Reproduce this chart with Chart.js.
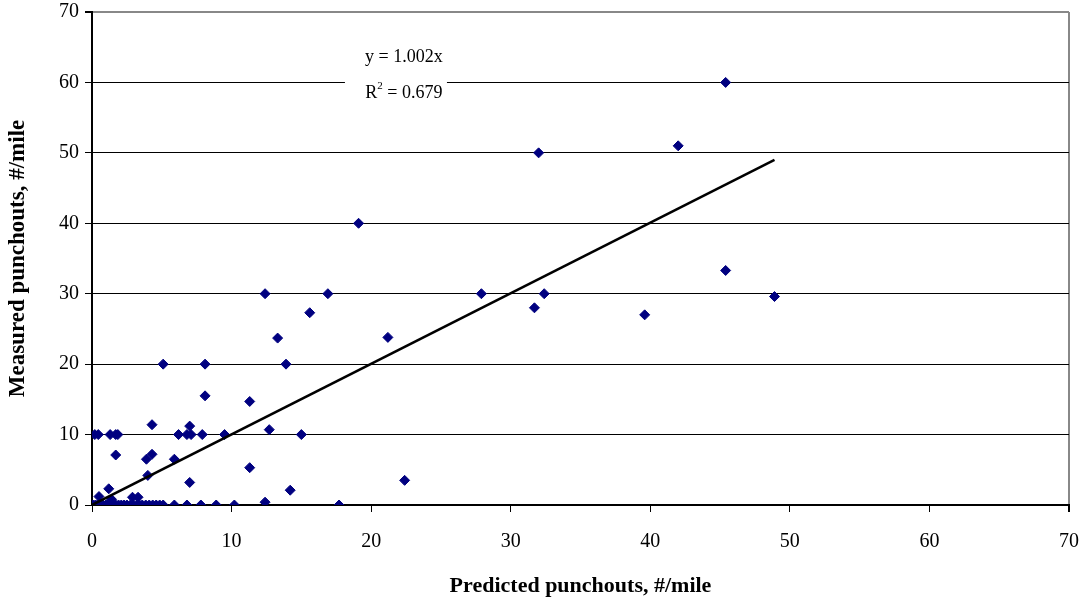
<!DOCTYPE html>
<html>
<head>
<meta charset="utf-8">
<script src="https://cdn.jsdelivr.net/npm/chart.js@4/dist/chart.umd.min.js"></script>
<style>
  html, body { margin: 0; padding: 0; background: #fff; }
  #wrap { width: 1083px; height: 601px; }
</style>
</head>
<body>
<div id="wrap"><canvas id="punchChart" width="1083" height="601"></canvas></div>
<script>
// predicted vs measured punchouts per mile, one entry per section
const predicted = [
  45.4, 32.0, 42.0, 19.1, 45.4, 48.9, 39.6, 31.7, 32.4, 27.9,
  21.2, 22.4, 17.7, 16.9, 15.6, 13.3, 12.4, 13.9, 11.3, 12.7,
  15.0, 11.3, 14.2, 12.4, 10.2, 8.9, 7.8, 6.8, 5.9,
  5.1, 8.1, 8.1, 9.5, 7.9, 7.1, 6.8, 6.2, 7.0, 7.0, 5.9,
  4.3, 4.3, 3.9, 4.0, 1.7, 1.85, 1.7, 1.3, 0.45, 0.2,
  1.2, 0.5, 2.9, 3.3, 1.4,
  0.0, 0.1, 0.25, 0.4, 0.6, 0.8, 1.0, 1.15, 1.35, 1.5,
  1.7, 1.9, 2.1, 2.3, 2.5, 2.75, 2.95, 3.2, 3.4, 3.6,
  3.85, 4.1, 4.35, 4.6, 4.85, 5.1
];
const measured = [
  60, 50, 51, 40, 33.3, 29.6, 27.0, 28.0, 30.0, 30.0,
  23.8, 3.5, 0, 30, 27.3, 23.7, 30, 20, 14.7, 10.7,
  10, 5.3, 2.1, 0.4, 0, 0, 0, 0, 0,
  20, 20, 15.5, 10, 10, 10, 10, 10, 11.2, 3.2, 6.5,
  11.4, 7.2, 6.5, 4.2, 7.1, 10, 10, 10, 10, 10,
  2.3, 1.2, 1.1, 1.1, 0.8,
  0, 0, 0, 0, 0, 0, 0, 0, 0, 0,
  0, 0, 0, 0, 0, 0, 0, 0, 0, 0,
  0, 0, 0, 0, 0, 0
];

const axisTicks = [0, 10, 20, 30, 40, 50, 60, 70];
const trendSlope = 1.002;
const trendR2 = 0.679;

const serif = "'Liberation Serif', 'Times New Roman', serif";

const points = predicted.map((x, i) => ({ x: x, y: measured[i] }));
const xMax = Math.max(...predicted);
const trend = [{ x: 0, y: 0 }, { x: xMax, y: trendSlope * xMax }];

// equation box drawn on top of the plot area
const trendLabel = {
  id: 'trendLabel',
  afterDatasetsDraw(chart) {
    const ctx = chart.ctx;
    const xs = chart.scales.x, ys = chart.scales.y;
    const cx = xs.getPixelForValue(22.35);
    const y1 = ys.getPixelForValue(63.6);
    const y2 = ys.getPixelForValue(58.5);
    ctx.save();
    ctx.fillStyle = '#fff';
    ctx.fillRect(cx - 59, y1 - 12, 102, y2 - y1 + 24);
    ctx.fillStyle = '#000';
    ctx.font = '18px ' + serif;
    ctx.textBaseline = 'middle';
    ctx.textAlign = 'left';
    const eq = 'y = ' + trendSlope.toFixed(3) + 'x';
    ctx.fillText(eq, cx - ctx.measureText(eq).width / 2, y1);
    const rest = ' = ' + trendR2.toFixed(3);
    const wR = ctx.measureText('R').width;
    ctx.font = '11px ' + serif;
    const w2 = ctx.measureText('2').width;
    ctx.font = '18px ' + serif;
    const total = wR + w2 + ctx.measureText(rest).width;
    let x0 = cx - total / 2;
    ctx.fillText('R', x0, y2);
    ctx.font = '11px ' + serif;
    ctx.fillText('2', x0 + wR, y2 - 7);
    ctx.font = '18px ' + serif;
    ctx.fillText(rest, x0 + wR + w2, y2);
    ctx.restore();
  }
};

new Chart(document.getElementById('punchChart'), {
  type: 'scatter',
  data: {
    datasets: [
      {
        label: 'Sections',
        data: points,
        pointStyle: 'rectRot',
        pointRadius: 5,
        pointBorderWidth: 1,
        backgroundColor: '#000080',
        borderColor: '#000080',
        order: 2
      },
      {
        label: 'Linear fit',
        type: 'line',
        data: trend,
        borderColor: '#000',
        borderWidth: 2.5,
        pointRadius: 0,
        fill: false,
        order: 1
      }
    ]
  },
  options: {
    responsive: false,
    animation: false,
    layout: { padding: { top: 12, right: 14, left: 0, bottom: 0 } },
    plugins: {
      legend: { display: false },
      tooltip: { enabled: false }
    },
    scales: {
      x: {
        type: 'linear',
        min: 0,
        max: 70,
        afterBuildTicks: (s) => { s.ticks = axisTicks.map(v => ({ value: v })); },
        afterFit: (s) => { s.height = 96; s.paddingLeft = 0; s.paddingRight = 0; },
        ticks: {
          color: '#000',
          font: { family: serif, size: 20 },
          padding: 18
        },
        grid: {
          drawOnChartArea: true,
          color: (c) => (c.tick && c.tick.value === 70 ? '#888' : 'rgba(0,0,0,0)'),
          lineWidth: (c) => (c.tick && c.tick.value === 70 ? 2 : 1),
          tickColor: '#000',
          tickLength: 7
        },
        border: { color: '#000', width: 2 },
        title: {
          display: true,
          text: 'Predicted punchouts, #/mile',
          color: '#000',
          font: { family: serif, size: 22, weight: 'bold' },
          padding: { top: 0, bottom: 1 }
        }
      },
      y: {
        type: 'linear',
        min: 0,
        max: 70,
        afterBuildTicks: (s) => { s.ticks = axisTicks.map(v => ({ value: v })); },
        afterFit: (s) => { s.width = 92; s.paddingTop = 0; s.paddingBottom = 0; },
        ticks: {
          color: '#000',
          font: { family: serif, size: 20 },
          padding: 6
        },
        grid: {
          color: (c) => (c.tick && c.tick.value === 70 ? '#888' : '#000'),
          lineWidth: (c) => (c.tick && c.tick.value === 70 ? 2 : 1),
          tickColor: '#000',
          tickLength: 7
        },
        border: { color: '#000', width: 2 },
        title: {
          display: true,
          text: 'Measured punchouts, #/mile',
          color: '#000',
          font: { family: serif, size: 23, weight: 'bold' },
          padding: { top: 4, bottom: 0 }
        }
      }
    }
  },
  plugins: [trendLabel]
});
</script>
</body>
</html>
